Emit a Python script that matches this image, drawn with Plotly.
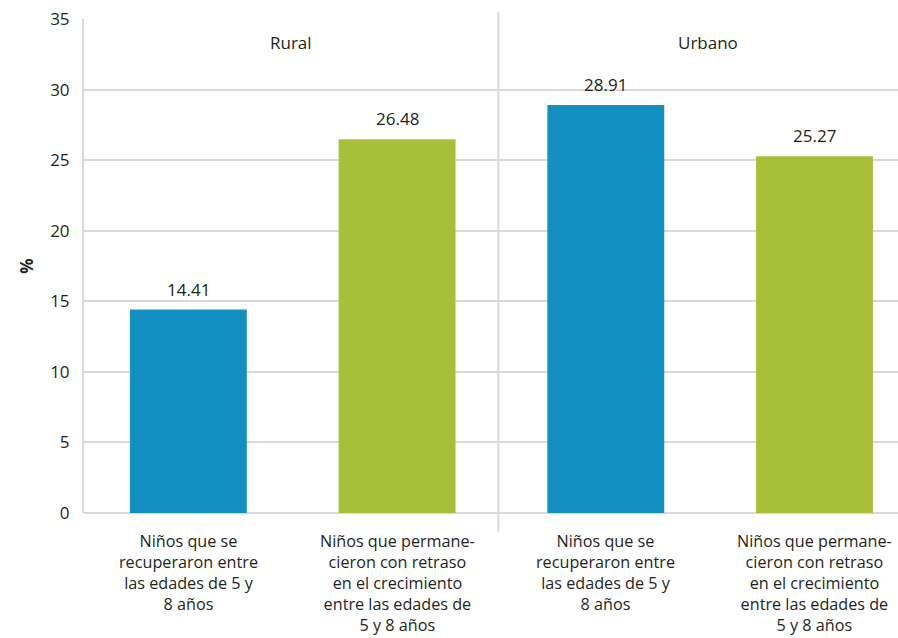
import plotly.graph_objects as go

# Data
categories = [
    "Niños que se<br>recuperaron entre<br>las edades de 5 y<br>8 años",
    "Niños que permane-<br>cieron con retraso<br>en el crecimiento<br>entre las edades de<br>5 y 8 años",
    "Niños que se<br>recuperaron entre<br>las edades de 5 y<br>8 años",
    "Niños que permane-<br>cieron con retraso<br>en el crecimiento<br>entre las edades de<br>5 y 8 años",
]
values = [14.41, 26.48, 28.91, 25.27]
groups = ["Rural", "Urbano"]
y_ticks = [0, 5, 10, 15, 20, 25, 30, 35]

BLUE = "#138fc1"
GREEN = "#a8bf3a"
GRID = "#d9d9d9"
TEXT = "#231f20"
FONT = "Open Sans"
FS = 17
FS_CAT = 16.2

positions = list(range(len(values)))
colors = [BLUE, GREEN, BLUE, GREEN]

fig = go.Figure()
fig.add_trace(go.Bar(
    x=positions,
    y=values,
    marker=dict(color=colors, line=dict(width=0)),
    width=0.56,
    showlegend=False,
    hoverinfo="skip",
))

# Value labels above the bars
for x, v in zip(positions, values):
    fig.add_annotation(
        x=x, y=v, text=f"{v:.2f}", showarrow=False,
        yanchor="bottom", yshift=7,
        font=dict(size=FS, color=TEXT, family=FONT),
    )

# Category labels under the axis
for x, label in zip(positions, categories):
    fig.add_annotation(
        x=x, y=0, text=label, showarrow=False,
        yanchor="top", yshift=-15, align="center",
        font=dict(size=FS_CAT, color=TEXT, family=FONT),
    )

# Group labels
for i, g in enumerate(groups):
    fig.add_annotation(
        x=0.49 + 2 * i, y=33.3, text=g, showarrow=False,
        font=dict(size=FS, color=TEXT, family=FONT),
        xref="x", yref="y",
    )

# Divider between the groups
fig.add_shape(
    type="line", xref="x", yref="paper",
    x0=1.485, x1=1.485, y0=-0.038, y1=1.014,
    line=dict(color=GRID, width=2),
)

fig.update_layout(
    width=898, height=638,
    margin=dict(l=84, r=0, t=19, b=125),
    plot_bgcolor="white", paper_bgcolor="white",
    font=dict(family=FONT, color=TEXT, size=FS),
)
fig.update_xaxes(
    range=[-0.5, 3.4],
    showticklabels=False,
    showgrid=False, zeroline=False, showline=False, ticks="",
    automargin=False,
    fixedrange=True,
)
fig.update_yaxes(
    range=[0, 35],
    tickvals=y_ticks,
    tickfont=dict(size=FS, color=TEXT, family=FONT),
    showgrid=True, gridcolor=GRID, gridwidth=1.5,
    zeroline=True, zerolinecolor=GRID, zerolinewidth=2,
    showline=True, linecolor=GRID, linewidth=2,
    ticks="", ticklabelstandoff=9,
    title=dict(text="<b>%</b>", font=dict(size=FS, color=TEXT, family=FONT), standoff=12),
    automargin=False,
    fixedrange=True,
)

fig.write_html("out.html")
